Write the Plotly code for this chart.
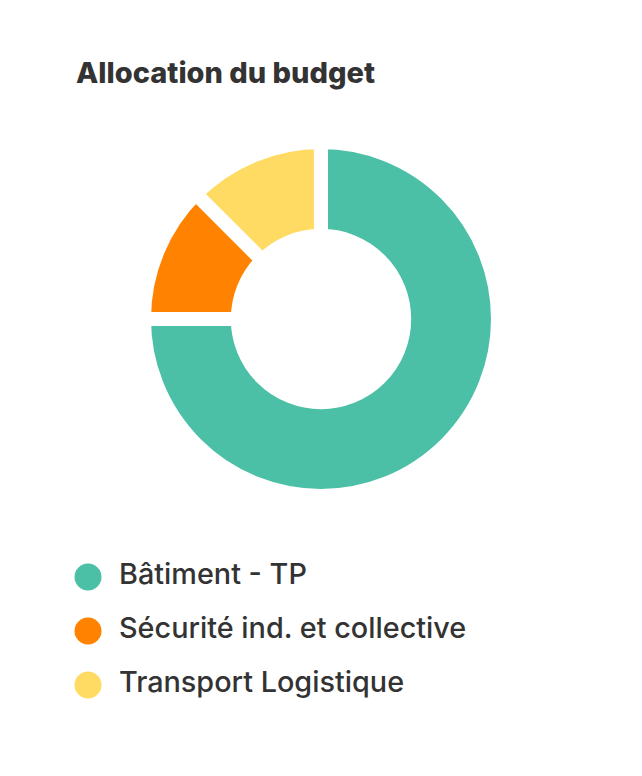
"""Donut chart: budget allocation"""

import plotly.graph_objects as go

CATEGORIES = ["Bâtiment - TP", "Sécurité ind. et collective", "Transport Logistique"]
SHARES = [75, 12.5, 12.5]
COLORS = ["#4bc0a6", "#ff8200", "#ffdb63"]
TITLE = "Allocation du budget"

FONT = "Inter"
TEXT_COLOR = "#333333"
W, H = 642, 776
PAD = 8  # page body margin around the plot div


def plot_graph():
    """Donut on top, hand-made legend with round markers below"""

    fig = go.Figure()

    fig.add_trace(go.Pie(
        labels=CATEGORIES,
        values=SHARES,
        hole=0.47,
        sort=False,
        direction="clockwise",
        rotation=0,
        marker=dict(colors=COLORS, line=dict(color="white", width=14)),
        textinfo="none",
        hoverinfo="label+percent",
        showlegend=False,
        domain=dict(x=[0, (321 - PAD) * 2 / W], y=[1 - (496 - PAD) / H, 1 - (142 - PAD) / H]),
    ))

    # legend rows: round marker, then the label a bit to the right
    rows = list(range(len(CATEGORIES)))
    fig.add_trace(go.Scatter(
        x=[0] * len(rows), y=rows,
        mode="markers",
        marker=dict(size=27, color=COLORS),
        hoverinfo="skip",
        showlegend=False,
    ))
    fig.add_trace(go.Scatter(
        x=[1] * len(rows), y=rows,
        mode="text",
        text=CATEGORIES,
        textposition="middle right",
        textfont=dict(family=FONT, size=28.8, color=TEXT_COLOR, weight=500),
        hoverinfo="skip",
        showlegend=False,
    ))

    unit = 31  # px between marker centre and label start
    x0 = 88 - PAD
    fig.update_xaxes(range=[-x0 / unit, (W - x0) / unit], visible=False, fixedrange=True)
    fig.update_yaxes(range=[2.5, -0.5], domain=[1 - (712 - PAD) / H, 1 - (550 - PAD) / H],
                     visible=False, fixedrange=True)

    fig.update_layout(
        width=W, height=H,
        margin=dict(l=0, r=0, t=0, b=0),
        paper_bgcolor="white",
        plot_bgcolor="white",
        title=dict(
            text=TITLE,
            x=(76 - PAD) / W, xanchor="left",
            y=1 - (73 - PAD) / H, yanchor="middle",
            font=dict(family=FONT, size=29, color=TEXT_COLOR, weight=800),
        ),
    )

    fig.write_html("out.html")


plot_graph()
